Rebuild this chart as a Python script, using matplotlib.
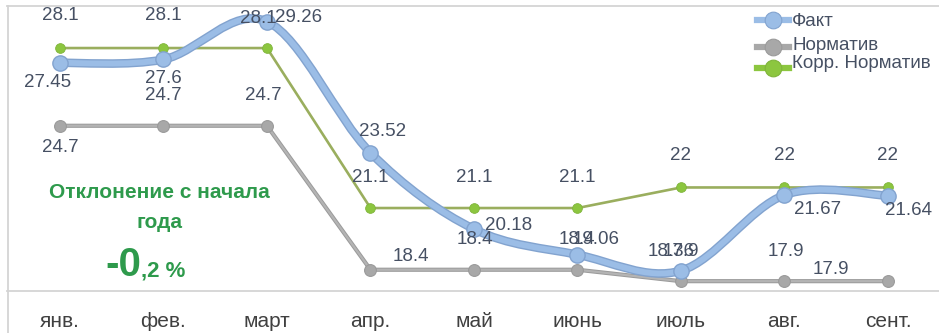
import numpy as np
import matplotlib
matplotlib.use("Agg")
import matplotlib.pyplot as plt
from matplotlib.path import Path
from matplotlib.patches import PathPatch
from matplotlib.lines import Line2D

plt.rcParams['font.family'] = ['Liberation Sans', 'DejaVu Sans']

months = ['янв.', 'фев.', 'март', 'апр.', 'май', 'июнь', 'июль', 'авг.', 'сент.']
fact = [27.45, 27.6, 29.26, 23.52, 20.18, 19.06, 18.36, 21.67, 21.64]
norm = [24.7, 24.7, 24.7, 18.4, 18.4, 18.4, 17.9, 17.9, 17.9]
corr_norm = [28.1, 28.1, 28.1, 21.1, 21.1, 21.1, 22, 22, 22]
deviation = '-0,2 %'

# label offsets in pixels (dx, dy) for each series
fact_off = [(-12, -20), (0, -19), (32, 4), (12, 21), (35, 4), (19, 15), (-10, 19), (33, -14), (21, -15)]
norm_off = [(0, -22), (0, 30), (-4, 30), (40, 13), (1, 30), (-1, 30), (0, 30), (1, 30), (-57, 12)]
corr_off = [(0, 33), (0, 33), (-9, 30), (0, 31), (0, 31), (0, 31), (0, 32), (0, 32), (0, 32)]

BLUE = '#9bbde6'
BLUE_EDGE = '#82a3cf'
GRAY = '#a8a8a8'
GRAY_EDGE = '#9a9a9a'
GREEN_LINE = '#9aae5e'
GREEN = '#8cc63f'
LABEL = '#465063'
ACCENT = '#2e9a4c'
FRAME = '#d4d4d4'


def smooth_path(xs, ys):
    # cubic bezier through the points, spreadsheet-style smoothing
    pts = np.column_stack([xs, ys]).astype(float)
    ext = np.vstack([pts[0], pts, pts[-1]])
    verts = [pts[0]]
    codes = [Path.MOVETO]
    for i in range(len(pts) - 1):
        p0, p1, p2, p3 = ext[i], ext[i + 1], ext[i + 2], ext[i + 3]
        verts += [p1 + (p2 - p0) / 6, p2 - (p3 - p1) / 6, p2]
        codes += [Path.CURVE4] * 3
    return Path(verts, codes)


fig = plt.figure(figsize=(9.39, 3.33), dpi=100)
W, H = 939, 333
ax = fig.add_axes([7 / W, (H - 291) / H, 1 - 7 / W, 285 / H])
x = np.arange(len(months))

# normative
ax.plot(x, norm, color=GRAY_EDGE, lw=3.0, solid_capstyle='round', zorder=2)
ax.plot(x, norm, color='#b4b4b4', lw=1.6, marker='o', ms=8.5, mfc=GRAY, mec=GRAY_EDGE,
        mew=0.8, zorder=3)

# corrected normative
ax.plot(x, corr_norm, color=GREEN_LINE, lw=1.9, marker='o', ms=7, mfc=GREEN, mec='#7fb43a',
        mew=0.6, zorder=4)

# actual, smoothed
path = smooth_path(x, fact)
ax.add_patch(PathPatch(path, fill=False, ec=BLUE_EDGE, lw=6.2, capstyle='round', zorder=5))
ax.add_patch(PathPatch(path, fill=False, ec=BLUE, lw=4.2, capstyle='round', zorder=6))
ax.plot(x, fact, ls='none', marker='o', ms=11, mfc=BLUE, mec=BLUE_EDGE, mew=1.0, zorder=7)

lab_kw = dict(textcoords='offset pixels', ha='center', va='center', fontsize=13.5,
              color=LABEL, zorder=10)
for xi, v, o in zip(x, corr_norm, corr_off):
    ax.annotate(f'{v:g}', (xi, v), xytext=o, **lab_kw)
for xi, v, o in zip(x, norm, norm_off):
    ax.annotate(f'{v:g}', (xi, v), xytext=o, **lab_kw)
for xi, v, o in zip(x, fact, fact_off):
    ax.annotate(f'{v:g}', (xi, v), xytext=o, **lab_kw)

ax.set_xlim(-0.512, 8.493)
ax.set_ylim(17.47, 29.94)
ax.set_yticks([])
ax.set_xticks(x, months)
ax.tick_params(axis='x', length=0, pad=15, labelsize=15, labelcolor='#404040')
for s in ['left', 'right']:
    ax.spines[s].set_visible(False)
for s in ['top', 'bottom']:
    ax.spines[s].set_color(FRAME)
    ax.spines[s].set_linewidth(1.3)

# left frame line runs the full height
fig.add_artist(Line2D([7.5 / W, 7.5 / W], [0, (H - 5.5) / H], color=FRAME, lw=1.3))

# legend
leg = [('Факт', BLUE, BLUE_EDGE, 20), ('Норматив', GRAY, GRAY_EDGE, 47),
       ('Корр. Норматив', GREEN, '#7fb43a', 68)]
for name, c, ec, py in leg:
    fy = (H - py) / H
    fig.add_artist(Line2D([757 / W, 789 / W], [fy, fy], color=c, lw=4.5))
    fig.add_artist(Line2D([773 / W], [fy], marker='o', ms=12, mfc=c, mec=ec, mew=0.8))
for name, py in [('Факт', 21), ('Норматив', 46), ('Корр. Норматив', 63)]:
    fig.text(792 / W, (H - py) / H, name, fontsize=13.5, color=LABEL, va='center', ha='left')

# deviation note
note_kw = dict(weight='bold', color=ACCENT)
fig.text(159 / W, (H - 192) / H, 'Отклонение с начала', ha='center', va='center', fontsize=15,
         **note_kw)
fig.text(159 / W, (H - 223) / H, 'года', ha='center', va='center', fontsize=15, **note_kw)
whole, frac = deviation.split(',')
fig.text(141 / W, (H - 276) / H, whole, ha='right', va='baseline', fontsize=29, **note_kw)
fig.text(141 / W, (H - 276) / H, ',' + frac, ha='left', va='baseline', fontsize=16, **note_kw)

fig.savefig('out.png', dpi=100)
